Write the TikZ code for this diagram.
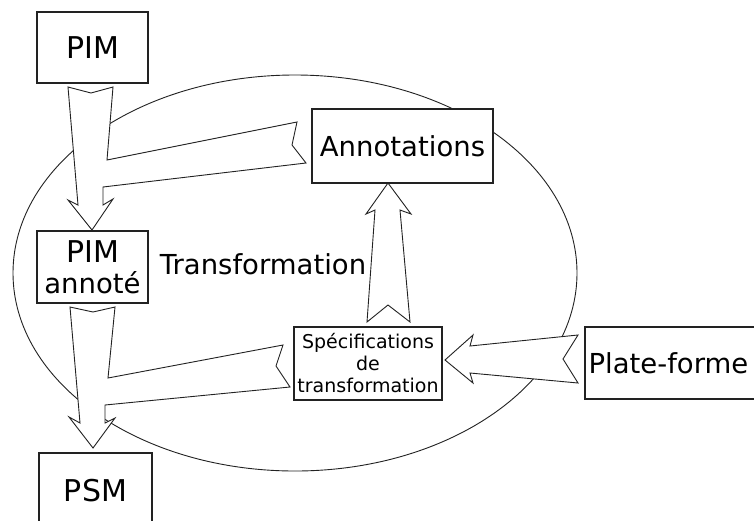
\documentclass[tikz,border=0pt]{standalone}
\usepackage{fontspec}
\setmainfont{DejaVu Sans}
\definecolor{ink}{HTML}{222222}
\begin{document}
\begin{tikzpicture}[x=1pt,y=-1pt,
  boxnode/.style={draw=ink,line width=1.3pt,fill=white,inner sep=0pt,align=center},
  bigtxt/.style={font=\fontsize{27.5}{31}\selectfont},
  acrtxt/.style={font=\fontsize{30}{31}\selectfont},
  smalltxt/.style={font=\fontsize{19}{22}\selectfont},
  blockarrow/.style={draw=ink,line width=0.9pt,fill=white,line join=miter},
  ring/.style={draw=ink,line width=0.9pt}]
\clip (0,0) rectangle (754,520);
\useasboundingbox (0,0) rectangle (754,520);
\fill[white] (0,0) rectangle (754,520);
% ellipse
\draw[ring] (295,273) ellipse [x radius=282, y radius=198];
% block arrows
\draw[blockarrow] (68,87) -- (91,93) -- (113,87) -- (107,160) -- (297,122) -- (292,145)
  -- (306,163) -- (103,187) -- (103,205) -- (113,199) -- (92,230) -- (68,200) -- (78,205) -- cycle;
\draw[blockarrow] (70,307) -- (93,312) -- (115,307) -- (108,378) -- (283,345) -- (276,366)
  -- (290,387) -- (105,405) -- (105,423) -- (115,418) -- (93,448) -- (69,417) -- (80,423) -- cycle;
\draw[blockarrow] (388,183) -- (411,214) -- (400,210) -- (410,322) -- (388,305) -- (367,322)
  -- (375,210) -- (366,214) -- cycle;
\draw[blockarrow] (445,360) -- (473,335) -- (470,346) -- (578,335) -- (563,359) -- (578,383)
  -- (470,373) -- (473,383) -- cycle;
% boxes
\node[boxnode,acrtxt,minimum width=111,minimum height=71] (pim) at (92.5,47.5) {PIM};
\node[boxnode,bigtxt,minimum width=111,minimum height=72] (pima) at (92.5,267) {{\fontsize{30}{31}\selectfont PIM}\\annoté};
\node[boxnode,acrtxt,minimum width=113,minimum height=76] (psm) at (95.5,491) {PSM};
\node[boxnode,bigtxt,minimum width=181,minimum height=74] (ann) at (402.5,146) {Annotations};
\node[boxnode,smalltxt,minimum width=148,minimum height=73] (spec) at (368,363.5) {Spécifications\\de\\transformation};
\node[boxnode,minimum width=185,minimum height=72] (plat) at (677.5,363) {};
\node[bigtxt,anchor=west,inner sep=0pt] (platlbl) at ([xshift=4pt]plat.west) {Plate-forme};
\node[bigtxt,inner sep=0pt] (trans) at (263,264) {Transformation};
\end{tikzpicture}
\end{document}
